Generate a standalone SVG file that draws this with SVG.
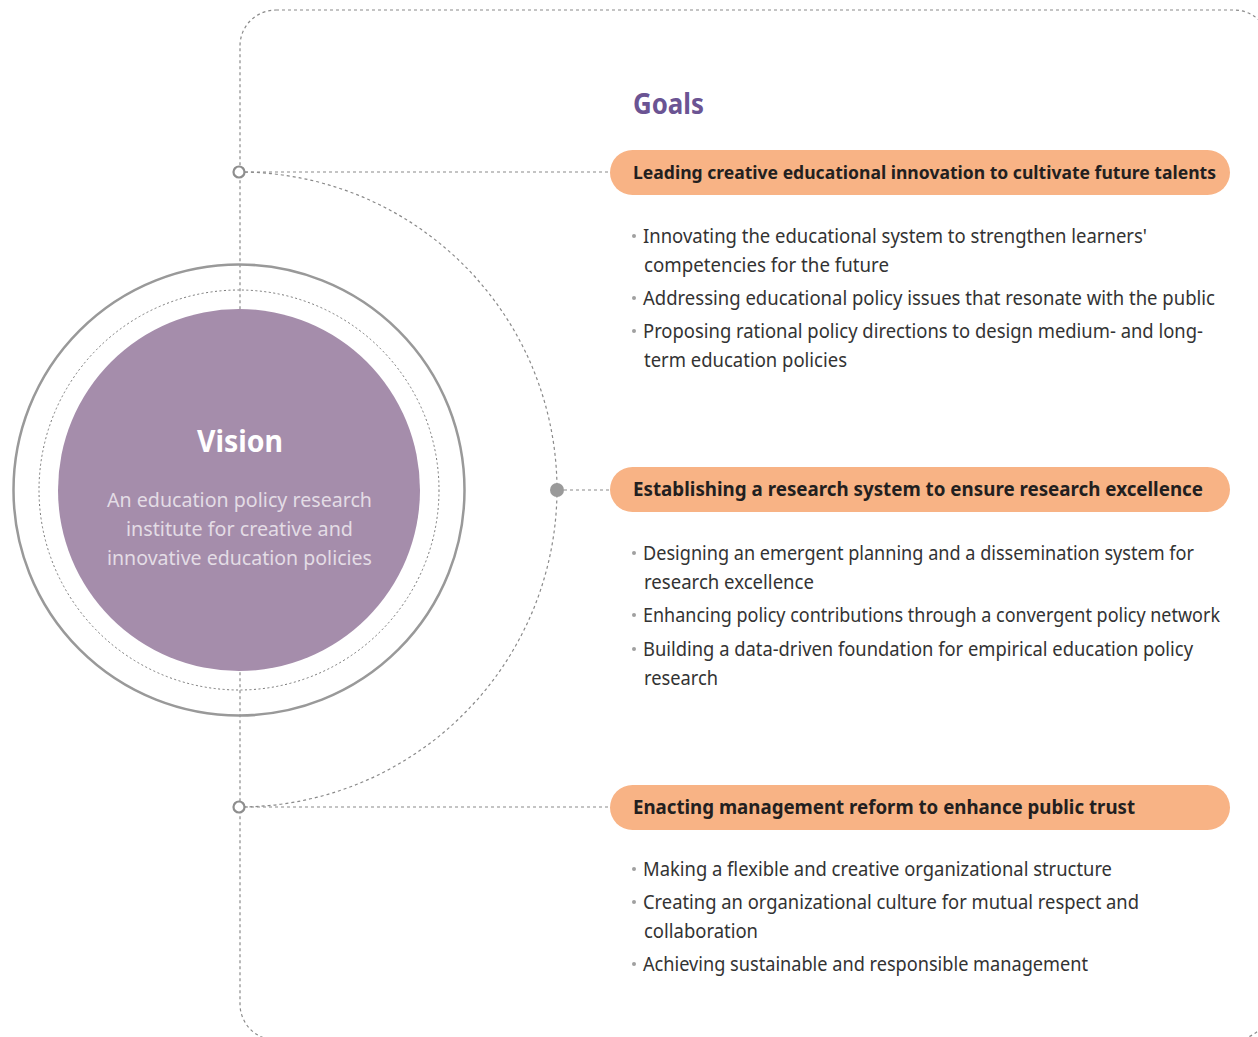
<svg xmlns="http://www.w3.org/2000/svg" width="1258" height="1037" viewBox="0 0 1258 1037">
<style>
.dash{fill:none;stroke:#8a8a8a;stroke-width:1.2;stroke-dasharray:3 3}
.pill{fill:#f8b385}
.ptxt{font-family:"Noto Sans","Open Sans",sans-serif;font-size:19.5px;font-weight:700;fill:#231f20}
.btxt{font-family:"Noto Sans","Open Sans",sans-serif;font-size:19px;fill:#333}
.dot{fill:#a0a0a0}
.vsub{font-family:"Noto Sans","Open Sans",sans-serif;font-size:19px;fill:#e3dce5}
</style>
<rect width="1258" height="1037" fill="#fff"/>
<g id="connectors">
  <rect class="dash" x="240" y="10" width="1030" height="1030" rx="36"/>
  <path class="dash" d="M239,172 A318,318 0 0 1 557,490 A318,318 0 0 1 239,807"/>
  <line class="dash" x1="245" y1="172" x2="610" y2="172"/>
  <line class="dash" x1="564" y1="490" x2="610" y2="490"/>
  <line class="dash" x1="245" y1="807" x2="610" y2="807"/>
</g>
<g id="vision">
  <circle cx="239" cy="490" r="225.5" fill="none" stroke="#999" stroke-width="2.5"/>
  <circle cx="239" cy="490" r="200" fill="none" stroke="#777" stroke-width="1" stroke-dasharray="2 2.5"/>
  <circle cx="239" cy="490" r="181" fill="#a58dab"/>
  <text x="240" y="452" text-anchor="middle" font-family="Noto Sans, Open Sans, sans-serif" font-size="31" font-weight="700" fill="#fff" textLength="86" lengthAdjust="spacingAndGlyphs">Vision</text>
  <text class="vsub" x="239.5" y="507" text-anchor="middle" textLength="265" lengthAdjust="spacingAndGlyphs">An education policy research</text>
  <text class="vsub" x="239.5" y="536" text-anchor="middle" textLength="227" lengthAdjust="spacingAndGlyphs">institute for creative and</text>
  <text class="vsub" x="239.5" y="565" text-anchor="middle" textLength="265" lengthAdjust="spacingAndGlyphs">innovative education policies</text>
</g>
<g id="markers">
  <circle cx="239" cy="172" r="5.5" fill="#fff" stroke="#8e8e8e" stroke-width="2.2"/>
  <circle cx="557" cy="490" r="7" fill="#9a9a9a"/>
  <circle cx="239" cy="807" r="5.5" fill="#fff" stroke="#8e8e8e" stroke-width="2.2"/>
</g>
<g id="goals-title">
  <text x="633" y="114" font-family="Noto Sans, Open Sans, sans-serif" font-size="28" font-weight="700" fill="#6b5493" textLength="71" lengthAdjust="spacingAndGlyphs">Goals</text>
</g>
<g id="goal1">
  <rect class="pill" x="610" y="150" width="620" height="45" rx="22.5"/>
  <text class="ptxt" x="633" y="179" font-size="18" style="font-size:18px" textLength="583" lengthAdjust="spacingAndGlyphs">Leading creative educational innovation to cultivate future talents</text>
  <circle class="dot" cx="634" cy="236" r="2"/>
  <text class="btxt" x="643" y="243" textLength="504" lengthAdjust="spacingAndGlyphs">Innovating the educational system to strengthen learners'</text>
  <text class="btxt" x="644" y="272" textLength="245" lengthAdjust="spacingAndGlyphs">competencies for the future</text>
  <circle class="dot" cx="634" cy="298" r="2"/>
  <text class="btxt" x="643" y="305" textLength="572" lengthAdjust="spacingAndGlyphs">Addressing educational policy issues that resonate with the public</text>
  <circle class="dot" cx="634" cy="331" r="2"/>
  <text class="btxt" x="643" y="338" textLength="560" lengthAdjust="spacingAndGlyphs">Proposing rational policy directions to design medium- and long-</text>
  <text class="btxt" x="644" y="367" textLength="203" lengthAdjust="spacingAndGlyphs">term education policies</text>
</g>
<g id="goal2">
  <rect class="pill" x="610" y="467" width="620" height="45" rx="22.5"/>
  <text class="ptxt" x="633" y="496" textLength="570" lengthAdjust="spacingAndGlyphs">Establishing a research system to ensure research excellence</text>
  <circle class="dot" cx="634" cy="553" r="2"/>
  <text class="btxt" x="643" y="560" textLength="551" lengthAdjust="spacingAndGlyphs">Designing an emergent planning and a dissemination system for</text>
  <text class="btxt" x="644" y="589" textLength="170" lengthAdjust="spacingAndGlyphs">research excellence</text>
  <circle class="dot" cx="634" cy="615" r="2"/>
  <text class="btxt" x="643" y="622" textLength="577" lengthAdjust="spacingAndGlyphs">Enhancing policy contributions through a convergent policy network</text>
  <circle class="dot" cx="634" cy="649" r="2"/>
  <text class="btxt" x="643" y="656" textLength="550" lengthAdjust="spacingAndGlyphs">Building a data-driven foundation for empirical education policy</text>
  <text class="btxt" x="644" y="685" textLength="74" lengthAdjust="spacingAndGlyphs">research</text>
</g>
<g id="goal3">
  <rect class="pill" x="610" y="785" width="620" height="45" rx="22.5"/>
  <text class="ptxt" x="633" y="814" textLength="502" lengthAdjust="spacingAndGlyphs">Enacting management reform to enhance public trust</text>
  <circle class="dot" cx="634" cy="869" r="2"/>
  <text class="btxt" x="643" y="876" textLength="469" lengthAdjust="spacingAndGlyphs">Making a flexible and creative organizational structure</text>
  <circle class="dot" cx="634" cy="902" r="2"/>
  <text class="btxt" x="643" y="909" textLength="496" lengthAdjust="spacingAndGlyphs">Creating an organizational culture for mutual respect and</text>
  <text class="btxt" x="644" y="938" textLength="114" lengthAdjust="spacingAndGlyphs">collaboration</text>
  <circle class="dot" cx="634" cy="964" r="2"/>
  <text class="btxt" x="643" y="971" textLength="445" lengthAdjust="spacingAndGlyphs">Achieving sustainable and responsible management</text>
</g>
</svg>
